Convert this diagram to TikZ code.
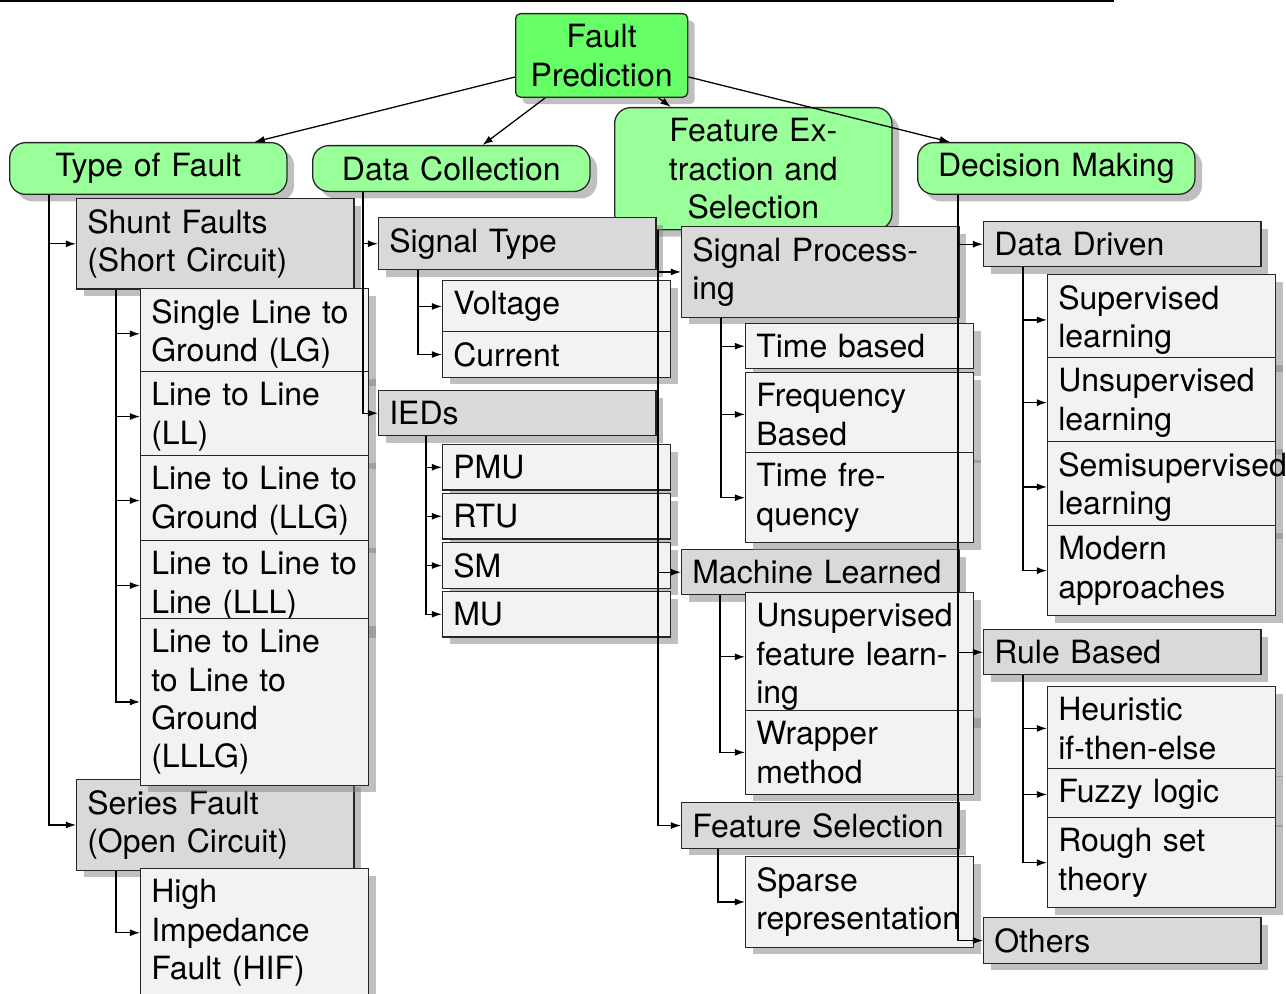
\documentclass[tikz,border=0pt]{standalone}
\usepackage{fontspec}
\setmainfont{TeX Gyre Heros}
\usetikzlibrary{shadows,arrows.meta,calc}
\hyphenpenalty=10000
\exhyphenpenalty=10000

\begin{document}
\begin{tikzpicture}[x=0.3125pt,y=-0.3125pt,line width=0.4pt,>={Latex[length=3.2pt,width=2.2pt]},
		every node/.style={font=\fontsize{10}{12}\selectfont,draw=black!85,anchor=north west,inner sep=3.333pt},
		root/.style={fill=green!60,rounded corners=1.5pt,align=center,text width=47.1pt,drop shadow={shadow xshift=2.2pt,shadow yshift=-2.2pt}},
		branch/.style={fill=green!40,rounded corners=5pt,align=center,text width=80pt,drop shadow={shadow xshift=2.2pt,shadow yshift=-2.2pt}},
		group/.style={fill=gray!30,align=left,text width=80pt,drop shadow={shadow xshift=2.2pt,shadow yshift=-2.2pt}},
		leaf/.style={fill=gray!10,align=left,text width=64.6pt,drop shadow={shadow xshift=2.2pt,shadow yshift=-2.2pt}}]
		\useasboundingbox (0,0) rectangle (1286,994);
		\draw[line width=0.6pt] (0,1)--(1114,1);
		% root and main branches
		\node[root] (fp) at (515,13) {Fault\\Prediction};
		\node[branch] (tof) at (9,142) {Type of Fault};
		\node[branch] (dc) at (312,145) {Data Collection};
		\node[branch] (fes) at (614,107) {Feature Ex-\\traction and\\Selection};
		\node[branch] (dm) at (917,142) {Decision Making};
		% second level
		\node[group] (shunt) at (76,198) {Shunt Faults\\(Short Circuit)};
		\node[group] (series) at (76,779) {Series Fault\\(Open Circuit)};
		\node[group] (sigtype) at (378,217) {Signal Type};
		\node[group] (ieds) at (378,390) {IEDs};
		\node[group] (sigproc) at (681,226) {Signal Process-\\ing};
		\node[group] (mlearn) at (681,549) {Machine Learned};
		\node[group] (fsel) at (681,802) {Feature Selection};
		\node[group] (ddriven) at (983,221) {Data Driven};
		\node[group] (rbased) at (983,629) {Rule Based};
		\node[group] (others) at (983,917) {Others};
		% leaves
		\node[leaf] (slg) at (140,288) {Single Line to\\Ground (LG)};
		\node[leaf] (ll) at (140,371) {Line to Line\\(LL)};
		\node[leaf] (llg) at (140,455) {Line to Line to\\Ground (LLG)};
		\node[leaf] (lll) at (140,540) {Line to Line to\\Line (LLL)};
		\node[leaf] (lllg) at (140,618) {Line to Line\\to Line to\\Ground\\(LLLG)};
		\node[leaf] (hif) at (140,868) {High\\Impedance\\Fault (HIF)};
		\node[leaf] (volt) at (442,280) {Voltage};
		\node[leaf] (curr) at (442,331) {Current};
		\node[leaf] (pmu) at (442,444) {PMU};
		\node[leaf] (rtu) at (442,493) {RTU};
		\node[leaf] (sm) at (442,542) {SM};
		\node[leaf] (mu) at (442,591) {MU};
		\node[leaf] (timeb) at (745,323) {Time based};
		\node[leaf] (freqb) at (745,372) {Frequency\\Based};
		\node[leaf] (timefreq) at (745,452) {Time fre-\\quency};
		\node[leaf] (ufl) at (745,592) {Unsupervised\\feature learn-\\ing};
		\node[leaf] (wrapper) at (745,710) {Wrapper\\method};
		\node[leaf] (sparse) at (745,856) {Sparse\\representation};
		\node[leaf] (superv) at (1047,274) {Supervised\\learning};
		\node[leaf] (unsuperv) at (1047,357) {Unsupervised\\learning};
		\node[leaf] (semisup) at (1047,441) {Semisupervised\\learning};
		\node[leaf] (modern) at (1047,525) {Modern\\approaches};
		\node[leaf] (heur) at (1047,686) {Heuristic\\if-then-else};
		\node[leaf] (fuzzy) at (1047,768) {Fuzzy logic};
		\node[leaf] (rough) at (1047,817) {Rough set\\theory};
		% connectors
		\draw[->] (fp)--(tof);
		\draw[->] (fp)--(dc);
		\draw[->] (fp)--(fes);
		\draw[->] (fp)--(dm);
		\draw[->] ($(tof.south west)+(40,0)$) |- (shunt.west);
		\draw[->] ($(tof.south west)+(40,0)$) |- (series.west);
		\draw[->] ($(shunt.south west)+(40,0)$) |- (slg.west);
		\draw[->] ($(shunt.south west)+(40,0)$) |- (ll.west);
		\draw[->] ($(shunt.south west)+(40,0)$) |- (llg.west);
		\draw[->] ($(shunt.south west)+(40,0)$) |- (lll.west);
		\draw[->] ($(shunt.south west)+(40,0)$) |- (lllg.west);
		\draw[->] ($(series.south west)+(40,0)$) |- (hif.west);
		\draw[->] ($(dc.south west)+(51,0)$) |- (sigtype.west);
		\draw[->] ($(dc.south west)+(51,0)$) |- (ieds.west);
		\draw[->] ($(sigtype.south west)+(40,0)$) |- (volt.west);
		\draw[->] ($(sigtype.south west)+(40,0)$) |- (curr.west);
		\draw[->] ($(ieds.south west)+(48,0)$) |- (pmu.west);
		\draw[->] ($(ieds.south west)+(48,0)$) |- (rtu.west);
		\draw[->] ($(ieds.south west)+(48,0)$) |- (sm.west);
		\draw[->] ($(ieds.south west)+(48,0)$) |- (mu.west);
		\draw[->] ($(fes.south west)+(44,0)$) |- (sigproc.west);
		\draw[->] ($(fes.south west)+(44,0)$) |- (mlearn.west);
		\draw[->] ($(fes.south west)+(44,0)$) |- (fsel.west);
		\draw[->] ($(sigproc.south west)+(40,0)$) |- (timeb.west);
		\draw[->] ($(sigproc.south west)+(40,0)$) |- (freqb.west);
		\draw[->] ($(sigproc.south west)+(40,0)$) |- (timefreq.west);
		\draw[->] ($(mlearn.south west)+(39,0)$) |- (ufl.west);
		\draw[->] ($(mlearn.south west)+(39,0)$) |- (wrapper.west);
		\draw[->] ($(fsel.south west)+(37,0)$) |- (sparse.west);
		\draw[->] ($(dm.south west)+(41,0)$) |- (ddriven.west);
		\draw[->] ($(dm.south west)+(41,0)$) |- (rbased.west);
		\draw[->] ($(dm.south west)+(41,0)$) |- (others.west);
		\draw[->] ($(ddriven.south west)+(40,0)$) |- (superv.west);
		\draw[->] ($(ddriven.south west)+(40,0)$) |- (unsuperv.west);
		\draw[->] ($(ddriven.south west)+(40,0)$) |- (semisup.west);
		\draw[->] ($(ddriven.south west)+(40,0)$) |- (modern.west);
		\draw[->] ($(rbased.south west)+(40,0)$) |- (heur.west);
		\draw[->] ($(rbased.south west)+(40,0)$) |- (fuzzy.west);
		\draw[->] ($(rbased.south west)+(40,0)$) |- (rough.west);
		\end{tikzpicture}
\end{document}
